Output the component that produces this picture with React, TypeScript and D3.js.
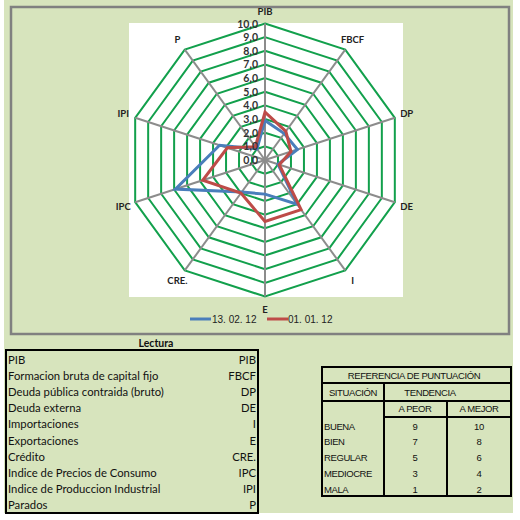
import React from "react";
import * as d3 from "d3";

const categories = ["PIB", "FBCF", "DP", "DE", "I", "E", "CRE.", "IPC", "IPI", "P"];
const serieA = [2.9, 2.4, 2.5, 1.0, 4.0, 2.5, 2.9, 6.9, 3.5, 1.0]; // 13.02.12
const serieB = [3.5, 2.6, 2.0, 1.1, 4.5, 4.5, 3.0, 4.8, 2.9, 1.2]; // 01.01.12
const seriesNames = ["13. 02. 12", "01. 01. 12"];
const ticks = [0, 1, 2, 3, 4, 5, 6, 7, 8, 9, 10];

const lecturaNames = [
  "PIB",
  "Formacion bruta de capital fijo",
  "Deuda pública contraida (bruto)",
  "Deuda externa",
  "Importaciones",
  "Exportaciones",
  "Crédito",
  "Indice de Precios de Consumo",
  "Indice de Produccion Industrial",
  "Parados",
];
const lecturaCodes = ["PIB", "FBCF", "DP", "DE", "I", "E", "CRE.", "IPC", "IPI", "P"];

const situaciones = ["BUENA", "BIEN", "REGULAR", "MEDIOCRE", "MALA"];
const aPeor = [9, 7, 5, 3, 1];
const aMejor = [10, 8, 6, 4, 2];

const BG = "#d7e4bd";
const BLUE = "#4a7ebb";
const RED = "#be4b48";
const GREEN = "#12a04c";
const GRAY = "#8c8c8c";

export default function App() {
  const cx = 265;
  const cy = 160;
  const R = 136.5;
  const r = d3.scaleLinear().domain([0, 10]).range([0, R]);
  const angle = d3
    .scaleLinear()
    .domain([0, categories.length])
    .range([0, 2 * Math.PI]);

  const radial = d3
    .lineRadial<number>()
    .angle((_, i) => angle(i))
    .radius((d) => r(d))
    .curve(d3.curveLinearClosed);

  const ringLine = (v: number) => radial(categories.map(() => v)) as string;

  const pt = (i: number, rad: number) => {
    const a = angle(i);
    return [cx + rad * Math.sin(a), cy - rad * Math.cos(a)];
  };

  const fmt = (v: number) => v.toFixed(1).replace(".", ",");

  const rowY = d3.scaleLinear().domain([0, 1]).range([360, 376.1]);
  const refY = d3.scaleLinear().domain([0, 1]).range([426, 441.8]);

  const sans = "Lato, 'Open Sans', sans-serif";
  const arial = "'Liberation Sans', Arial, sans-serif";

  return (
    <svg
      width={520}
      height={520}
      style={{ position: "absolute", left: 0, top: 0 }}
      xmlns="http://www.w3.org/2000/svg"
    >
      <rect x={0} y={0} width={520} height={520} fill="#ffffff" />
      <rect x={4} y={0} width={509} height={513} fill={BG} />
      <rect x={11} y={7} width={498} height={327} fill={BG} stroke="#808080" strokeWidth={2.5} />
      <rect x={129} y={23} width={274} height={274} fill="#ffffff" />

      <g transform={`translate(${cx},${cy})`}>
        {ticks.slice(1).map((t) => (
          <path key={t} d={ringLine(t)} fill="none" stroke={GREEN} strokeWidth={2} />
        ))}
        {categories.map((c, i) => {
          const a = angle(i);
          return (
            <line
              key={c}
              x1={0}
              y1={0}
              x2={R * Math.sin(a)}
              y2={-R * Math.cos(a)}
              stroke={GRAY}
              strokeWidth={2}
            />
          );
        })}
        <path d={radial(serieA) as string} fill="none" stroke={BLUE} strokeWidth={3} strokeLinejoin="miter" />
        <path d={radial(serieB) as string} fill="none" stroke={RED} strokeWidth={3} strokeLinejoin="miter" />
      </g>

      {ticks.map((t) => (
        <text
          key={t}
          x={258}
          y={cy - r(t) + 4}
          textAnchor="end"
          fontFamily={sans}
          fontWeight="bold"
          fontSize={10.5}
          fill="#333"
        >
          {fmt(t)}
        </text>
      ))}

      {categories.map((c, i) => {
        const [x, y] = pt(i, 149);
        return (
          <text
            key={c}
            x={x}
            y={y + 3.5}
            textAnchor="middle"
            fontFamily={sans}
            fontWeight="bold"
            fontSize={9.5}
            fill="#222"
          >
            {c}
          </text>
        );
      })}

      {/* legend */}
      <line x1={190} y1={319} x2={211} y2={319} stroke={BLUE} strokeWidth={3} />
      <text x={212} y={322.5} fontFamily={arial} fontSize={10} fill="#222">
        {seriesNames[0]}
      </text>
      <line x1={267} y1={319} x2={288} y2={319} stroke={RED} strokeWidth={3} />
      <text x={288} y={322.5} fontFamily={arial} fontSize={10} fill="#222">
        {seriesNames[1]}
      </text>

      {/* Lectura table */}
      <text x={156} y={347} textAnchor="middle" fontFamily={sans} fontWeight="bold" fontSize={10.5} fill="#111">
        Lectura
      </text>
      <rect x={6} y={350} width={252} height={163} fill="none" stroke="#000" strokeWidth={2} />
      {lecturaNames.map((n, i) => (
        <g key={n}>
          <text x={8} y={rowY(i) + 4} fontFamily={sans} fontSize={11.3} fill="#111">
            {n}
          </text>
          <text x={256} y={rowY(i) + 4} textAnchor="end" fontFamily={sans} fontSize={11.3} fill="#111">
            {lecturaCodes[i]}
          </text>
        </g>
      ))}

      {/* Referencia table */}
      <g fontFamily={arial} fontSize={9.5} fill="#111" letterSpacing={-0.4}>
        <rect x={322} y={367} width={189} height={129} fill="none" stroke="#000" strokeWidth={2} />
        <line x1={322} y1={383} x2={511} y2={383} stroke="#000" strokeWidth={2} />
        <line x1={322} y1={401} x2={511} y2={401} stroke="#000" strokeWidth={2} />
        <line x1={384} y1={417} x2={511} y2={417} stroke="#000" strokeWidth={2} />
        <line x1={384} y1={383} x2={384} y2={496} stroke="#000" strokeWidth={2} />
        <line x1={447} y1={401} x2={447} y2={496} stroke="#000" strokeWidth={2} />
        <text x={414} y={378.5} textAnchor="middle">REFERENCIA DE PUNTUACIÓN</text>
        <text x={353} y={395.5} textAnchor="middle">SITUACIÓN</text>
        <text x={430} y={395.5} textAnchor="middle">TENDENCIA</text>
        <text x={415} y={412} textAnchor="middle">A PEOR</text>
        <text x={479} y={412} textAnchor="middle">A MEJOR</text>
        {situaciones.map((s, i) => (
          <g key={s}>
            <text x={324} y={refY(i) + 3.5}>{s}</text>
            <text x={415} y={refY(i) + 3.5} textAnchor="middle">{aPeor[i]}</text>
            <text x={479} y={refY(i) + 3.5} textAnchor="middle">{aMejor[i]}</text>
          </g>
        ))}
      </g>
    </svg>
  );
}
